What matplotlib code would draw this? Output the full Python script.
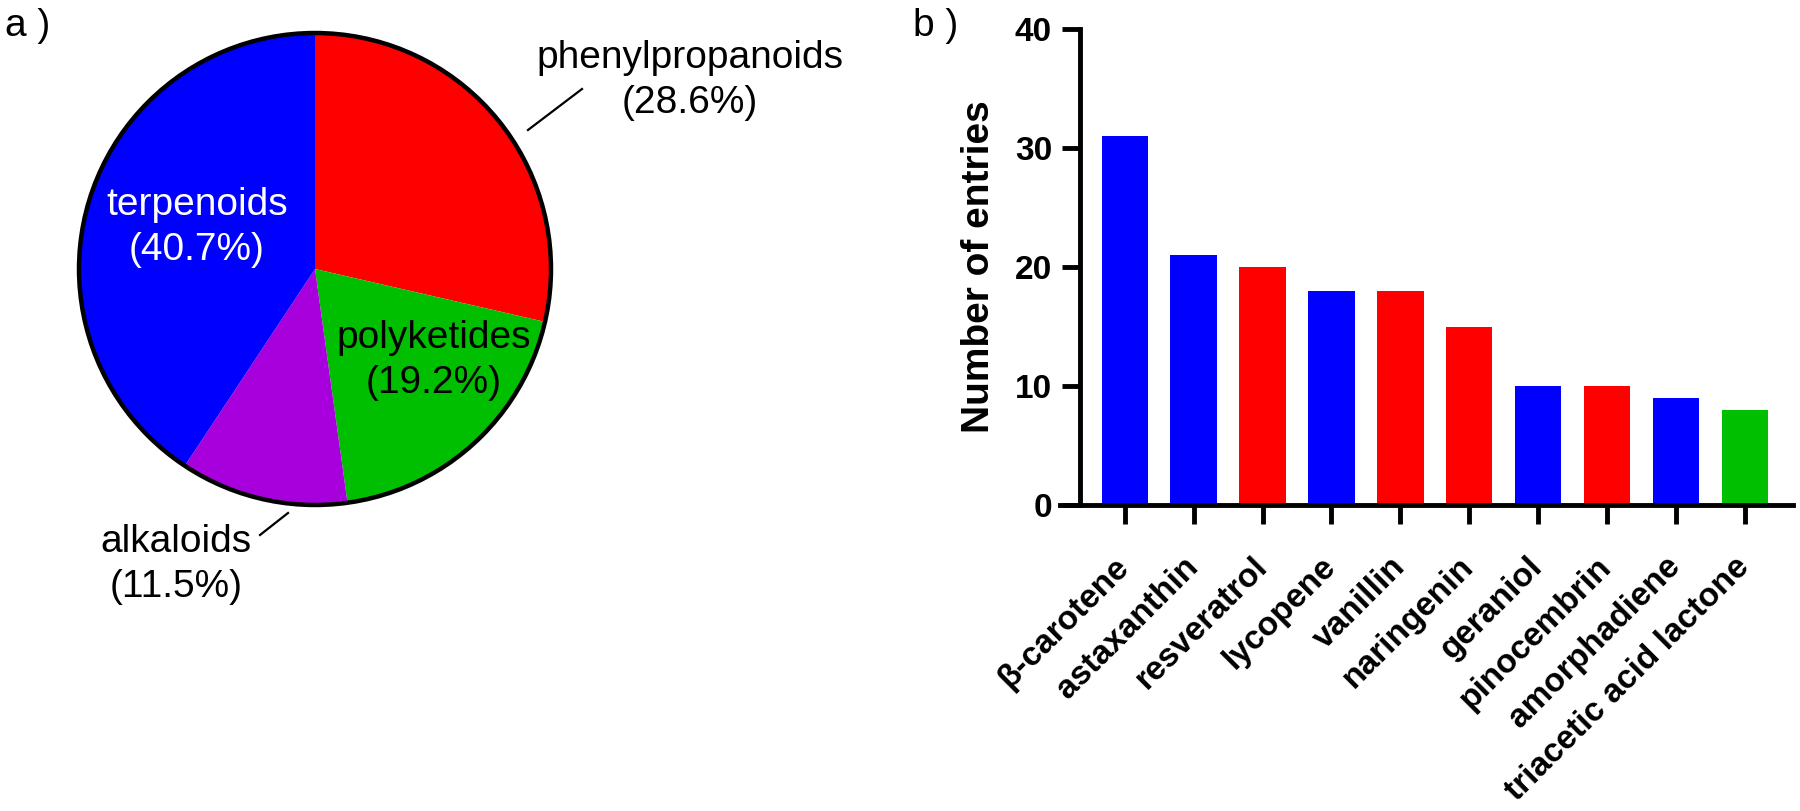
import matplotlib
matplotlib.use("Agg")
import matplotlib.pyplot as plt
from matplotlib.patches import Circle
import numpy as np

plt.rcParams['font.family'] = ['Liberation Sans', 'DejaVu Sans']

# ---- data ----
pie_labels = ["phenylpropanoids", "polyketides", "alkaloids", "terpenoids"]
pie_values = [28.6, 19.2, 11.5, 40.7]
pie_colors = ["#FF0000", "#00BF00", "#A800DC", "#0000FF"]

bar_labels = ["β-carotene", "astaxanthin", "resveratrol", "lycopene", "vanillin",
              "naringenin", "geraniol", "pinocembrin", "amorphadiene",
              "triacetic acid lactone"]
bar_values = [31, 21, 20, 18, 18, 15, 10, 10, 9, 8]
bar_colors = ["#0000FF", "#0000FF", "#FF0000", "#0000FF", "#FF0000",
              "#FF0000", "#0000FF", "#FF0000", "#0000FF", "#00BF00"]
y_ticks = [0, 10, 20, 30, 40]

W, H = 1800, 811
fig = plt.figure(figsize=(W / 100, H / 100), dpi=100)

# ---- pie ----
cx, cy, R = 315, 269, 236     # pixel layout (image coords, y down)
half = 270
axp = fig.add_axes([(cx - half) / W, (H - cy - half) / H, 2 * half / W, 2 * half / H])
axp.pie(pie_values, colors=pie_colors, startangle=90, counterclock=False,
        radius=1, wedgeprops=dict(linewidth=0))
axp.add_patch(Circle((0, 0), 1, fill=False, lw=3.2, ec="black", zorder=5))
axp.set_xlim(-half / R, half / R)
axp.set_ylim(-half / R, half / R)
axp.set_aspect("equal")
axp.axis("off")

def d(px, py):
    return ((px - cx) / R, (cy - py) / R)

fs = 28
pie_text_pos = {  # center x, baseline of first line (image px)
    "phenylpropanoids": (690, 68, "black"),
    "polyketides": (434, 348, "black"),
    "alkaloids": (176, 552, "black"),
    "terpenoids": (197, 215, "white"),
}
for lab, val in zip(pie_labels, pie_values):
    px, py, col = pie_text_pos[lab]
    x1, y1 = d(px, py)
    x2, y2 = d(px, py + 45)
    axp.text(x1, y1, lab, ha="center", va="baseline", fontsize=fs, color=col, zorder=6)
    axp.text(x2, y2, f"({val}%)", ha="center", va="baseline", fontsize=fs, color=col, zorder=6)

for (p0, p1) in [((528, 130), (582, 89)), ((260, 535), (288, 513))]:
    a, b = d(*p0)
    c, e = d(*p1)
    axp.plot([a, c], [b, e], color="black", lw=1.6, clip_on=False)

# ---- bar ----
x0_px, x1_px = 1060, 1793
y0_px, y1_px = 505, 29
axb = fig.add_axes([x0_px / W, (H - y0_px) / H, (x1_px - x0_px) / W, (y0_px - y1_px) / H])
xpos = np.arange(len(bar_values))
axb.bar(xpos, bar_values, width=0.675, color=bar_colors, linewidth=0, zorder=2)
axb.set_xlim(-0.94, 9.70)
axb.set_ylim(0, 40)
for s in ["top", "right"]:
    axb.spines[s].set_visible(False)
axb.spines["left"].set_position(("data", -0.653))
axb.spines["left"].set_bounds(0, 40)
for s in ["left", "bottom"]:
    axb.spines[s].set_linewidth(3.5)
    axb.spines[s].set_capstyle("projecting")
axb.set_yticks(y_ticks, labels=[str(v) for v in y_ticks], fontsize=24, fontweight="bold")
axb.set_xticks(xpos)
axb.set_xticklabels(bar_labels, rotation=45, ha="right", va="center",
                    rotation_mode="anchor", fontsize=24, fontweight="bold")
axb.tick_params(axis="y", length=13, width=3.5, pad=7, direction="out")
axb.tick_params(axis="x", length=14, width=3.5, pad=27, direction="out")
axb.set_ylabel("Number of entries", fontsize=28, fontweight="bold")
axb.yaxis.label.set_verticalalignment("center")
axb.yaxis.set_label_coords((979 - x0_px) / (x1_px - x0_px), 0.5)

fig.text(5 / W, 1 - 36 / H, "a )", fontsize=fs, ha="left", va="baseline")
fig.text(913 / W, 1 - 36 / H, "b )", fontsize=fs, ha="left", va="baseline")

fig.savefig("out.png", dpi=100)
